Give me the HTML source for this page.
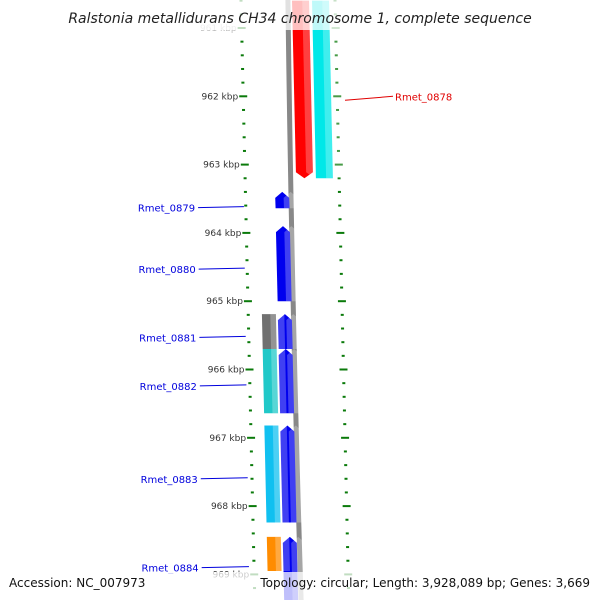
<!DOCTYPE html>
<html><head><meta charset="utf-8"><style>
body{margin:0;background:#fff}
svg{display:block;font-family:"DejaVu Sans","Liberation Sans",sans-serif}
</style></head><body>
<svg id="map" width="600" height="600" viewBox="0 0 600 600" xmlns="http://www.w3.org/2000/svg">
<g id="ticks"></g>
<path id="backbone" fill="none" stroke="#888" stroke-width="5"/>
<g id="genes"></g>
<g id="labels"></g>
<rect x="0" y="0" width="600" height="30" fill="#fff" opacity="0.75"/>
<text x="300" y="23" text-anchor="middle" font-size="14" font-style="italic" fill="#222">Ralstonia metallidurans CH34 chromosome 1, complete sequence</text>
<rect x="0" y="572" width="600" height="28" fill="#fff" opacity="0.75"/>
<text x="9" y="587" font-size="12" fill="#111">Accession: NC_007973</text>
<text x="590" y="587" text-anchor="end" font-size="12" fill="#111">Topology: circular; Length: 3,928,089 bp; Genes: 3,669</text>
</svg>
<script>
const tickKbp = [961, 962, 963, 964, 965, 966, 967, 968, 969];
const geneNames = ["Rmet_0878", "", "Rmet_0879", "Rmet_0880", "Rmet_0881", "", "Rmet_0882", "", "Rmet_0883", "", "Rmet_0884", ""];
const geneStart = [960.6, 960.6, 963.40, 963.90, 965.19, 965.19, 965.70, 965.70, 966.82, 966.82, 968.45, 968.45];
const geneEnd   = [963.20, 963.20, 963.64, 965.0, 965.70, 965.70, 966.64, 966.64, 968.24, 968.24, 969.5, 968.95];
const geneStrand = [-1, 0, 1, 1, 1, 0, 1, 0, 1, 0, 1, 0];
const geneLane = [1, 2, -1, -1, -1, -2, -1, -2, -1, -2, -1, -2];
const geneColor = ["#ff0000", "#00e8e8", "#0000ee", "#0000ee", "#0000ee", "#707070", "#0000ee", "#20c8c8", "#0000ee", "#10c0f0", "#0000ee", "#ff8c00"];
const labelKbp = [962.0, 0, 963.63, 964.53, 965.53, 0, 966.24, 0, 967.60, 0, 968.9, 0];

const NS = "http://www.w3.org/2000/svg";
const yOf = k => 28 + (k - 961) * 68.3;
const cx = y => 288 + 0.022 * y;
const laneOff = {1: [4, 21], 2: [24, 41], "-1": [-17, -3], "-2": [-33, -19]};
function mk(tag, attrs, parent) {
  const e = document.createElementNS(NS, tag);
  for (const k in attrs) e.setAttribute(k, attrs[k]);
  parent.appendChild(e); return e;
}
document.getElementById('backbone').setAttribute('d', `M${cx(-10)} -10 Q${cx(300)-3} 300 ${cx(610)} 610`);

const tg = document.getElementById('ticks');
for (let k = 960.6; k <= 969.5; k += 0.2) {
  const kk = Math.round(k * 10) / 10;
  const y = yOf(kk);
  const major = Math.abs(kk - Math.round(kk)) < 0.01;
  const xl = 241 + 0.023 * y, xr = 335 + 0.023 * y;
  const w = major ? 8 : 3;
  const a = mk('rect', {x: xl - w / 2, y: y - 1, width: w, height: 2, fill: "#0a7a0a"}, tg);
  
  
  const b = mk('rect', {x: xr - w / 2, y: y - 1, width: w, height: 2, fill: "#0a7a0a"}, tg);
  
  
}
tickKbp.forEach(k => {
  const y = yOf(k);
  const t = mk('text', {x: 236 + 0.023 * y, y: y + 3, 'text-anchor': 'end', 'font-size': 9, fill: k === 961 ? "#bbb" : "#333"}, tg);
  t.textContent = k + " kbp";
  
  
});

const gg = document.getElementById('genes');
const lg = document.getElementById('labels');
geneStart.forEach((s, i) => {
  const y1 = yOf(s), y2 = yOf(geneEnd[i]);
  const [o1, o2] = laneOff[geneLane[i]];
  const a1 = cx(y1) + o1, b1 = cx(y1) + o2, a2 = cx(y2) + o1, b2 = cx(y2) + o2;
  const ah = 6;
  let pts;
  if (geneStrand[i] === 1) {
    pts = `${(a1+b1)/2},${y1} ${b1},${y1+ah} ${b2},${y2} ${a2},${y2} ${a1},${y1+ah}`;
  } else if (geneStrand[i] === -1) {
    pts = `${a1},${y1} ${b1},${y1} ${b2},${y2-ah} ${(a2+b2)/2},${y2} ${a2},${y2-ah}`;
  } else {
    pts = `${a1},${y1} ${b1},${y1} ${b2},${y2} ${a2},${y2}`;
  }
  const p = mk('polygon', {points: pts, fill: geneColor[i]}, gg);
  
  
  const hl = mk('polygon', {points: pts, fill: "#fff", opacity: 0.25, transform: `translate(${(o2-o1)*0.6},0) scale(1)`}, gg);
  
  
  if (geneNames[i]) {
    const ly = yOf(labelKbp[i]);
    const col = geneStrand[i] === -1 ? "#e00000" : "#0000dd";
    let tx, x1, x2;
    if (geneStrand[i] === -1) { x1 = 345; x2 = 393; tx = 395; }
    else { x1 = 196 + 0.01 * ly; x2 = 241 + 0.014 * ly; tx = 193 + 0.01 * ly; }
    const ln = mk('line', {x1, y1: geneStrand[i] === -1 ? ly + 4 : ly, x2, y2: geneStrand[i] === -1 ? ly : ly - 1, stroke: col, 'stroke-width': 1}, lg);
    
    
    const t = mk('text', {x: tx, y: ly + 4, 'text-anchor': geneStrand[i] === -1 ? 'start' : 'end', 'font-size': 10, fill: col}, lg);
    t.textContent = geneNames[i];
    
    
  }
});
</script>
</body></html>
